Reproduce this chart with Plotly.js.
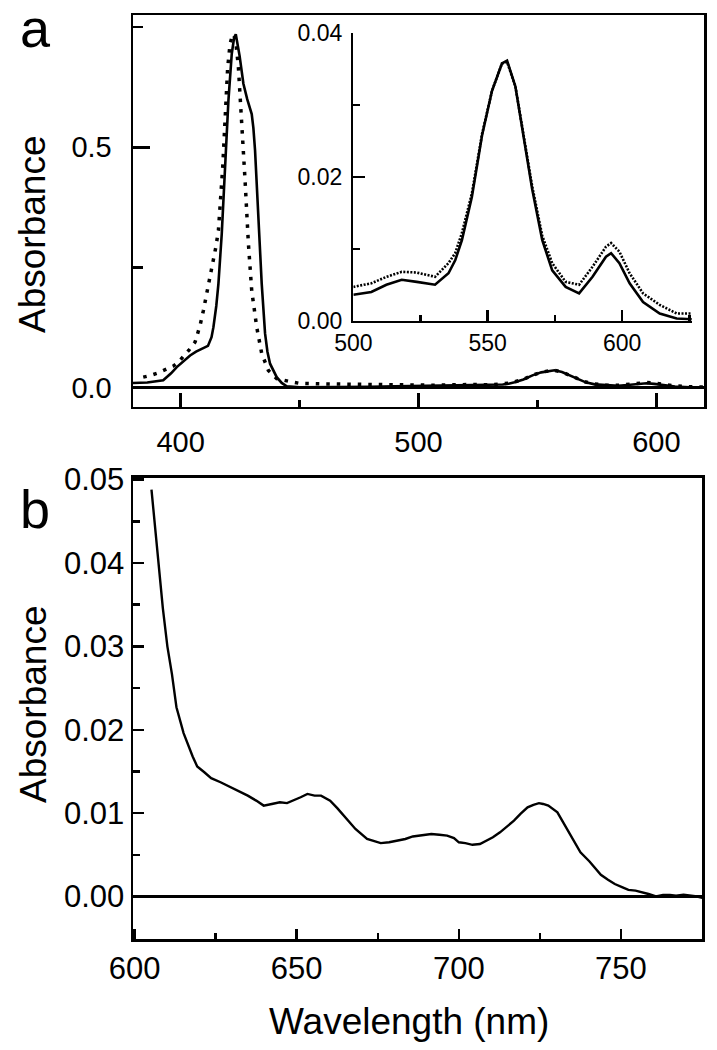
<!DOCTYPE html>
<html>
<head>
<meta charset="utf-8">
<script src="https://cdn.plot.ly/plotly-3.0.1.min.js"></script>
<style>html,body{margin:0;padding:0;background:#fff}#chart{width:717px;height:1050px}</style>
</head>
<body>
<div id="chart"></div>
<script>
// ---- Panel a: Soret region (solid) ----
var wlSoretSolid = [380, 386, 392.7, 396, 398.4, 401, 404, 406.5, 408.2, 410, 411.5, 413, 413.8, 415, 415.9, 417.3, 418.7, 420.1, 421.5, 422.5, 423.2, 424, 424.8, 426.4, 428, 429.9, 430.6, 431.3, 432.7, 434.1, 435.5, 436.5, 437.6, 440.4, 442.5, 444.6, 450, 460, 470, 480, 490, 495];
var absSoretSolid = [0.010, 0.011, 0.0156, 0.030, 0.043, 0.055, 0.067, 0.075, 0.079, 0.082, 0.087, 0.105, 0.126, 0.17, 0.216, 0.32, 0.458, 0.597, 0.694, 0.728, 0.735, 0.715, 0.69, 0.632, 0.60, 0.569, 0.54, 0.493, 0.355, 0.216, 0.113, 0.075, 0.05, 0.022, 0.010, 0.003, 0.001, 0.001, 0.0015, 0.002, 0.003, 0.0033];
// ---- Panel a: Soret region (dotted) ----
var wlSoretDot = [384.3, 387, 390.6, 394, 396.9, 399, 401.2, 403.5, 406.1, 408.2, 409.6, 411, 412.4, 414.8, 415.9, 416.9, 417.7, 418.4, 419.1, 419.8, 420.8, 421.6, 422.3, 423.2, 424.3, 425.7, 427.1, 428.5, 429.9, 432, 434.1, 436.9, 440.4, 445.3, 450.2, 460, 475, 490, 495];
var absSoretDot = [0.022, 0.025, 0.031, 0.038, 0.045, 0.053, 0.064, 0.078, 0.095, 0.13, 0.161, 0.196, 0.23, 0.292, 0.327, 0.389, 0.458, 0.528, 0.597, 0.666, 0.715, 0.73, 0.735, 0.72, 0.666, 0.558, 0.431, 0.30, 0.202, 0.126, 0.071, 0.036, 0.019, 0.0135, 0.009, 0.008, 0.007, 0.006, 0.0052];
// ---- Q-band region (shared by main panel a and inset) ----
var wlQ = [500, 506.7, 512.3, 518, 523.6, 530.4, 535.4, 537.9, 540.4, 544.1, 547.9, 551.6, 555.3, 557.2, 560.3, 563.4, 566.5, 570.3, 574, 579, 584, 589, 594, 595.9, 599, 602.8, 607.8, 614, 620.3, 625.9];
var absQSolid = [0.0036, 0.0040, 0.0050, 0.0057, 0.0054, 0.0050, 0.0066, 0.0084, 0.0112, 0.0172, 0.0258, 0.032, 0.0358, 0.0362, 0.0326, 0.0258, 0.0184, 0.0112, 0.0070, 0.0047, 0.0038, 0.0061, 0.0089, 0.0094, 0.0080, 0.0052, 0.0026, 0.0010, 0.0003, 0.0002];
var absQDot = [0.0047, 0.0052, 0.0061, 0.0068, 0.0067, 0.0061, 0.0080, 0.0094, 0.0122, 0.0177, 0.0260, 0.032, 0.0358, 0.0360, 0.0326, 0.0260, 0.0188, 0.0118, 0.0080, 0.0054, 0.0050, 0.0075, 0.0103, 0.0108, 0.0096, 0.0066, 0.0038, 0.0022, 0.0010, 0.0010];
// ---- Panel b ----
var wlB = [605.2, 607.3, 608.7, 610.1, 611.5, 612.9, 615.1, 617.9, 619.3, 621.5, 623.6, 626.5, 629.2, 632, 634.9, 637.5, 639.8, 642.3, 644.8, 647, 649.0, 651.2, 653.3, 655.5, 657.5, 660.3, 662.5, 664.6, 668.1, 671.7, 674, 675.9, 678.5, 681.6, 683.5, 685.8, 688.5, 691.5, 694, 696.4, 698.5, 700.0, 702, 704.2, 706.5, 708.5, 710.5, 712.7, 715, 717.0, 719, 721.2, 723, 724.7, 726, 727.6, 730.4, 733.9, 737.5, 740.3, 743.8, 746, 748.1, 750.5, 752.3, 754.5, 756.6, 758.5, 760.8, 763, 765.1, 767, 769.3, 771.5, 773.5, 775.6];
var absB = [0.0488, 0.0401, 0.0346, 0.0300, 0.0267, 0.0227, 0.0196, 0.0168, 0.0156, 0.0149, 0.0142, 0.0137, 0.0132, 0.0127, 0.0121, 0.0115, 0.0109, 0.0111, 0.0113, 0.0112, 0.0115, 0.0119, 0.0123, 0.0121, 0.0121, 0.0115, 0.0106, 0.0097, 0.0081, 0.0069, 0.0066, 0.0064, 0.0065, 0.0067, 0.0069, 0.0072, 0.0073, 0.0075, 0.0074, 0.0073, 0.0070, 0.0065, 0.0064, 0.0062, 0.0063, 0.0067, 0.0071, 0.0077, 0.0084, 0.0091, 0.0099, 0.0107, 0.0110, 0.0112, 0.0111, 0.0109, 0.0101, 0.0077, 0.0053, 0.0042, 0.0026, 0.0020, 0.0015, 0.0011, 0.0008, 0.0007, 0.0005, 0.0003, 0.0000, 0.0002, 0.0002, 0.0001, 0.0002, 0.0001, 0.0000, -0.0002];

var FONT = 'Liberation Sans, Arial, Helvetica, sans-serif';

var traces = [
  {x: wlSoretSolid.concat(wlQ), y: absSoretSolid.concat(absQSolid), xaxis: 'x', yaxis: 'y', mode: 'lines', line: {color: '#000', width: 2.6}},
  {x: wlSoretDot.concat(wlQ), y: absSoretDot.concat(absQDot), xaxis: 'x', yaxis: 'y', mode: 'lines', line: {color: '#000', width: 3.5, dash: '3.5px,7px'}},
  {x: wlQ, y: absQSolid, xaxis: 'x3', yaxis: 'y3', mode: 'lines', line: {color: '#000', width: 2.6}},
  {x: wlQ, y: absQDot, xaxis: 'x3', yaxis: 'y3', mode: 'lines', line: {color: '#000', width: 2.6, dash: '2px,1.5px'}},
  {x: wlB, y: absB, xaxis: 'x2', yaxis: 'y2', mode: 'lines', line: {color: '#000', width: 2.4}}
];

function ax(o) {
  var base = {showline: true, linecolor: '#000', linewidth: 2.5, mirror: true, ticks: 'inside', tickcolor: '#000', tickwidth: 2.5, showgrid: false, zeroline: false, tickfont: {family: FONT, size: 29, color: '#000'}};
  for (var k in o) base[k] = o[k];
  return base;
}

var layout = {
  width: 717, height: 1050,
  margin: {l: 0, r: 0, t: 0, b: 0},
  paper_bgcolor: '#fff', plot_bgcolor: 'rgba(0,0,0,0)',
  showlegend: false,
  xaxis: ax({domain: [0.1855, 0.9819], anchor: 'y', range: [380, 620], tick0: 400, dtick: 100, ticklen: 14, ticklabelstandoff: 8,
    minor: {dtick: 50, tick0: 400, ticklen: 7, tickwidth: 2.5, tickcolor: '#000', ticks: 'inside'}}),
  yaxis: ax({domain: [0.6124, 0.9857], anchor: 'x', range: [-0.04, 0.775], tick0: 0, dtick: 0.5, tickformat: '.1f', ticklen: 17, ticklabelstandoff: 13,
    zeroline: true, zerolinecolor: '#000', zerolinewidth: 2.5,
    minor: {dtick: 0.25, tick0: 0, ticklen: 10, tickwidth: 2.5, tickcolor: '#000', ticks: 'inside'}}),
  xaxis2: ax({domain: [0.1855, 0.9791], anchor: 'y2', range: [599.5, 775], tick0: 600, dtick: 50, ticklen: 10, ticklabelstandoff: 0,
    tickfont: {family: FONT, size: 31, color: '#000'},
    minor: {dtick: 25, tick0: 600, ticklen: 6, tickwidth: 2.5, tickcolor: '#000', ticks: 'inside'}}),
  yaxis2: ax({domain: [0.1057, 0.5448], anchor: 'x2', range: [-0.0051, 0.0502], tick0: 0, dtick: 0.01, tickformat: '.2f', ticklen: 11, ticklabelstandoff: 0,
    tickfont: {family: FONT, size: 31, color: '#000'},
    zeroline: true, zerolinecolor: '#000', zerolinewidth: 2.5,
    minor: {dtick: 0.005, tick0: 0, ticklen: 7, tickwidth: 2.5, tickcolor: '#000', ticks: 'inside'}}),
  xaxis3: ax({domain: [0.4928, 0.9651], anchor: 'y3', range: [500, 626], mirror: false, tick0: 500, dtick: 50, ticklen: 11, ticklabelstandoff: 0,
    tickfont: {family: FONT, size: 23, color: '#000'},
    minor: {dtick: 25, tick0: 500, ticklen: 6, tickwidth: 2.5, tickcolor: '#000', ticks: 'inside'}}),
  yaxis3: ax({domain: [0.6946, 0.9683], anchor: 'x3', range: [0, 0.04], mirror: false, tick0: 0, dtick: 0.02, tickformat: '.2f', ticklen: 12, ticklabelstandoff: 4,
    tickfont: {family: FONT, size: 23, color: '#000'},
    minor: {dtick: 0.01, tick0: 0, ticklen: 7, tickwidth: 2.5, tickcolor: '#000', ticks: 'inside'}}),
  annotations: [
    {text: 'a', xref: 'paper', yref: 'paper', x: 18/717, y: 1 - 28/1050, xanchor: 'left', yanchor: 'middle', showarrow: false, font: {family: FONT, size: 54, color: '#000'}},
    {text: 'b', xref: 'paper', yref: 'paper', x: 18/717, y: 1 - 509/1050, xanchor: 'left', yanchor: 'middle', showarrow: false, font: {family: FONT, size: 54, color: '#000'}},
    {text: 'Absorbance', xref: 'paper', yref: 'paper', x: 33/717, y: 1 - 235/1050, xanchor: 'center', yanchor: 'middle', textangle: -90, showarrow: false, font: {family: FONT, size: 37, color: '#000'}},
    {text: 'Absorbance', xref: 'paper', yref: 'paper', x: 33/717, y: 1 - 705/1050, xanchor: 'center', yanchor: 'middle', textangle: -90, showarrow: false, font: {family: FONT, size: 37, color: '#000'}},
    {text: 'Wavelength (nm)', xref: 'paper', yref: 'paper', x: 409/717, y: 1 - 1021/1050, xanchor: 'center', yanchor: 'middle', showarrow: false, font: {family: FONT, size: 37, color: '#000'}}
  ]
};

Plotly.newPlot('chart', traces, layout, {staticPlot: true, displayModeBar: false});
</script>
</body>
</html>
